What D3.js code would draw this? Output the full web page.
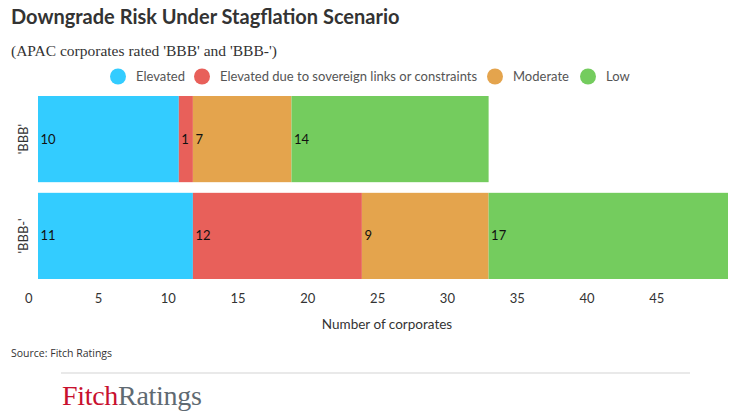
<!DOCTYPE html>
<html><head><meta charset="utf-8">
<script src="https://cdn.jsdelivr.net/npm/d3@7"></script>
<style>body{margin:0;background:#fff;}svg{display:block;}</style>
</head><body>
<svg id="c" width="756" height="419"></svg>
<script>
const categories = ["'BBB'", "'BBB-'"];
const seriesNames = ["Elevated", "Elevated due to sovereign links or constraints", "Moderate", "Low"];
const seriesColors = ["#33ccff", "#e8605a", "#e4a44d", "#74cc5e"];
const elevated = [10, 11];
const sovereign = [1, 12];
const moderate = [7, 9];
const low = [14, 17];
const tickValues = [0, 5, 10, 15, 20, 25, 30, 35, 40, 45];

const svg = d3.select("#c");
const font = "Lato, 'Open Sans', sans-serif";

svg.append("text").attr("x", 11).attr("y", 24).text("Downgrade Risk Under Stagflation Scenario")
  .attr("font-family", font).attr("font-weight", 700).attr("font-size", 20).attr("fill", "#333");
svg.append("text").attr("x", 11).attr("y", 56).text("(APAC corporates rated 'BBB' and 'BBB-')")
  .attr("font-family", "'Liberation Serif', serif").attr("font-size", 15.5).attr("fill", "#333");

// legend
const legendX = [118, 202, 495, 588];
const lg = svg.append("g");
seriesNames.forEach((n, i) => {
  lg.append("circle").attr("cx", legendX[i]).attr("cy", 76.5).attr("r", 8).attr("fill", seriesColors[i]);
  lg.append("text").attr("x", legendX[i] + 18).attr("y", 76.5).attr("dy", "0.35em").text(n)
    .attr("font-family", font).attr("font-size", 13).attr("fill", "#555");
});

const data = categories.map((c, i) => ({cat: c, Elevated: elevated[i], Sov: sovereign[i], Moderate: moderate[i], Low: low[i]}));
const keys = ["Elevated", "Sov", "Moderate", "Low"];
const stack = d3.stack().keys(keys)(data);

const x = d3.scaleLinear().domain([0, 49]).range([38, 728]);
const xAxisScale = d3.scaleLinear().domain([0, 50]).range([28.3, 726]);
const y = d3.scaleBand().domain(categories).range([96, 279]).paddingInner(0.11);

const g = svg.append("g");
stack.forEach((s, si) => {
  g.selectAll(null).data(s).enter().append("rect")
    .attr("x", d => x(d[0])).attr("width", d => x(d[1]) - x(d[0]))
    .attr("y", d => y(d.data.cat)).attr("height", y.bandwidth())
    .attr("fill", seriesColors[si]);
  g.selectAll(null).data(s).enter().append("text")
    .attr("x", d => x(d[0]) + 2.5).attr("y", d => y(d.data.cat) + y.bandwidth() / 2)
    .attr("dy", "0.35em").text(d => d[1] - d[0])
    .attr("font-family", font).attr("font-size", 13).attr("fill", "#111");
});

// y labels
categories.forEach(c => {
  const cy = y(c) + y.bandwidth() / 2;
  svg.append("text").attr("transform", `translate(23,${cy}) rotate(-90)`)
    .attr("text-anchor", "middle").attr("dy", "0.35em").text(c)
    .attr("font-family", font).attr("font-size", 13).attr("fill", "#333");
});

// x axis
const ax = svg.append("g").attr("transform", "translate(0,294)")
  .call(d3.axisBottom(xAxisScale).tickValues(tickValues).tickSize(0).tickPadding(0));
ax.select(".domain").remove();
ax.selectAll("text").attr("font-family", font).attr("font-size", 13).attr("fill", "#333").attr("dy", "0.71em");

svg.append("text").attr("x", 387).attr("y", 324).attr("text-anchor", "middle").attr("dy", "0.35em")
  .text("Number of corporates").attr("font-family", font).attr("font-size", 13.5).attr("fill", "#333");

svg.append("text").attr("x", 11).attr("y", 357).text("Source: Fitch Ratings")
  .attr("font-family", "'Open Sans', sans-serif").attr("font-size", 10.5).attr("fill", "#333");

svg.append("line").attr("x1", 61).attr("x2", 690).attr("y1", 373).attr("y2", 373)
  .attr("stroke", "#d4d4d4").attr("stroke-width", 1.2);

const logo = svg.append("text").attr("x", 62).attr("y", 405)
  .attr("font-family", "'Liberation Serif', serif").attr("font-size", 28).attr("letter-spacing", -0.3);
logo.append("tspan").text("Fitch").attr("fill", "#c8102e");
logo.append("tspan").text("Ratings").attr("fill", "#5f6a72");
</script>
</body></html>
